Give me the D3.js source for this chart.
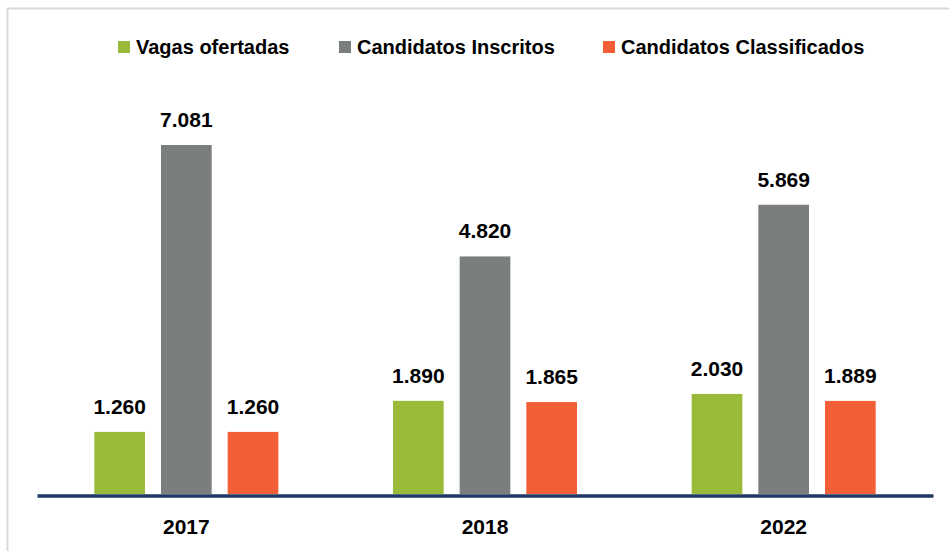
<!DOCTYPE html>
<html lang="pt">
<head>
<meta charset="utf-8">
<title>Vagas e candidatos</title>
<script src="https://d3js.org/d3.v7.min.js"></script>
<style>
    body { margin: 0; background: #fff; }
    #chart1 { width: 949px; height: 551px; }
    text { font-family: "Liberation Sans", Arial, sans-serif; font-weight: bold; fill: #000; }
</style>
</head>
<body>
<div id="chart1"></div>
<script>
// data
const years = ["2017", "2018", "2022"]
const seriesNames = ["Vagas ofertadas", "Candidatos Inscritos", "Candidatos Classificados"]
const seriesColors = ["#9aba3a", "#7a7e7e", "#f25f37"]
const vagas = [1260, 1890, 2030]
const inscritos = [7081, 4820, 5869]
const classificados = [1260, 1865, 1889]

const seriesValues = [vagas, inscritos, classificados]

const width = 949, height = 551

const svg = d3.select("#chart1")
    .append("svg")
    .attr("width", width)
    .attr("height", height)

// light frame (top + left edges visible)
svg.append("line")
    .attr("x1", 7.5).attr("x2", width).attr("y1", 8.5).attr("y2", 8.5)
    .attr("stroke", "#d9d9d9").attr("stroke-width", 2)
svg.append("line")
    .attr("x1", 7.5).attr("x2", 7.5).attr("y1", 8.5).attr("y2", height)
    .attr("stroke", "#d9d9d9").attr("stroke-width", 2)

// scales
const x = d3.scaleBand()
    .domain(years)
    .range([37, 933])

const x1 = d3.scaleBand()
    .domain(seriesNames)
    .range([-92, 92])
    .paddingInner(0.24)

const y = d3.scaleLinear()
    .domain([0, 8000])
    .range([494, 494 - 8000 * (349 / 7081)])

const color = d3.scaleOrdinal().domain(seriesNames).range(seriesColors)

// rows for drawing
const rows = []
years.forEach((yr, i) => {
    seriesNames.forEach((s, j) => {
        rows.push({ year: yr, series: s, value: seriesValues[j][i] })
    })
})

const fmt = d3.formatLocale({ decimal: ",", thousands: ".", grouping: [3], currency: ["", ""] }).format(",")

const barX = d => x(d.year) + x.bandwidth() / 2 + x1(d.series)

svg.append("g")
    .selectAll("rect")
    .data(rows)
    .join("rect")
    .attr("x", barX)
    .attr("width", x1.bandwidth())
    .attr("y", d => y(d.value))
    .attr("height", d => y(0) - y(d.value))
    .attr("fill", d => color(d.series))

svg.append("g")
    .selectAll("text")
    .data(rows)
    .join("text")
    .attr("x", d => barX(d) + x1.bandwidth() / 2)
    .attr("y", d => y(d.value) - 18)
    .attr("text-anchor", "middle")
    .style("font-size", "21px")
    .text(d => fmt(d.value))

// x axis: thick navy baseline + year labels
const xAxis = svg.append("g")
    .attr("transform", "translate(0," + (y(0) + 1.5) + ")")
    .call(d3.axisBottom(x).tickSize(0).tickPadding(24))
xAxis.select(".domain")
    .attr("stroke", "#1f3864")
    .attr("stroke-width", 3.5)
xAxis.selectAll(".tick text")
    .style("font-family", "'Liberation Sans', Arial, sans-serif")
    .style("font-weight", "bold")
    .style("font-size", "21px")
    .attr("fill", "#000")

// legend
const legendPos = [118, 339, 603]
const legend = svg.append("g")
    .selectAll("g")
    .data(seriesNames)
    .join("g")
    .attr("transform", (d, i) => "translate(" + legendPos[i] + ",41)")
legend.append("rect")
    .attr("width", 12).attr("height", 12)
    .attr("fill", d => color(d))
legend.append("text")
    .attr("x", 18)
    .attr("y", 13)
    .style("font-size", "20px")
    .text(d => d)
</script>
</body>
</html>
